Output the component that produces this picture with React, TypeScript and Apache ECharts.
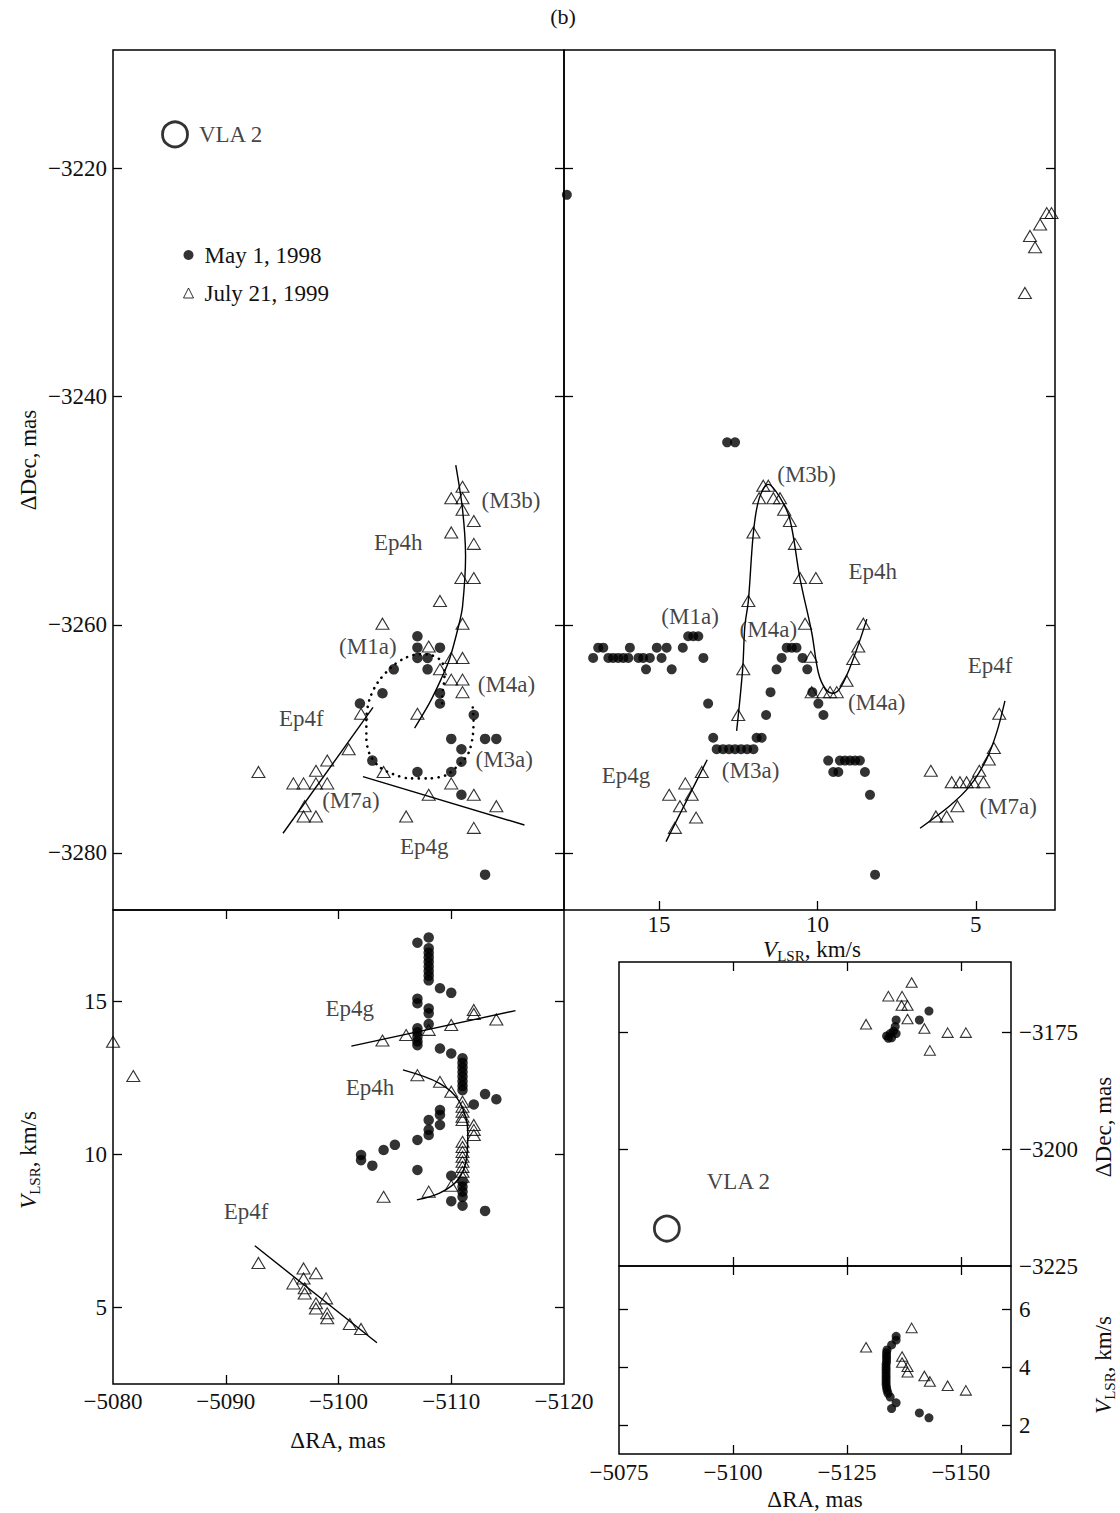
import React, { useEffect, useRef } from "react";
import * as echarts from "echarts";

type P = [number, number];
type Note = [number, number, string];

const FONT = '"Liberation Serif", "Times New Roman", serif';
const MAY = "May 1, 1998";
const JULY = "July 21, 1999";

// ---------- tick values ----------
const DEC_TICKS_TOP = [-3220, -3240, -3260, -3280];
const V_TICKS = [15, 10, 5];
const RA_LABELS_LEFT = [-5080, -5090, -5100, -5110, -5120];
const RA_TICKS_LEFT = [-5090, -5100, -5110];
const RA_LABELS_INSET = [-5075, -5100, -5125, -5150];
const RA_TICKS_INSET = [-5100, -5125, -5150];
const DEC_LABELS_INSET = [-3175, -3200, -3225];
const DEC_TICKS_INSET = [-3175, -3200];
const V_TICKS_INSET = [6, 4, 2];

// ---------- VLA 2 position (RA, Dec) ----------
const VLA2: P = [-5085.5, -3217];

// ---------- Panel A: RA vs Dec ----------
const A_MAY: P[] = [
  [-5107, -3261], [-5107, -3262], [-5109, -3262], [-5107, -3262.9], [-5107.9, -3262.9],
  [-5104.9, -3263.9], [-5107.9, -3263.9], [-5103.9, -3266], [-5101.9, -3266.9], [-5109, -3266],
  [-5109, -3266.9], [-5112, -3267.9], [-5110, -3270], [-5113, -3270], [-5114, -3270],
  [-5110.9, -3270.9], [-5110.9, -3272], [-5103, -3271.9], [-5107, -3272.9], [-5110, -3272.9],
  [-5110.9, -3274.9], [-5113, -3281.9],
];
const A_JULY: P[] = [
  [-5111, -3247.9], [-5110, -3248.9], [-5111, -3248.9], [-5111, -3249.9], [-5112, -3250.9],
  [-5110, -3251.9], [-5112, -3252.9], [-5110.9, -3255.9], [-5112, -3255.9], [-5109, -3257.9],
  [-5111, -3259.9], [-5103.9, -3259.9], [-5108, -3261.9], [-5110, -3262.9], [-5111, -3262.9],
  [-5109, -3263.9], [-5110, -3264.8], [-5111, -3264.8], [-5111, -3265.9], [-5102, -3267.8],
  [-5107, -3267.8], [-5100.9, -3270.9], [-5099, -3271.9], [-5098, -3272.8], [-5092.9, -3272.9],
  [-5104, -3272.9], [-5096, -3273.9], [-5096.9, -3273.9], [-5098, -3273.9], [-5099, -3273.9],
  [-5110, -3273.9], [-5108, -3274.9], [-5112, -3274.9], [-5097, -3275.9], [-5114, -3275.9],
  [-5096.9, -3276.8], [-5098, -3276.8], [-5106, -3276.8], [-5112, -3277.8],
];
const A_EP4H: P[] = [
  [-5106.75, -3269.05], [-5108.1, -3266.8], [-5109.1, -3264.76], [-5109.85, -3263.0],
  [-5110.65, -3260.1], [-5111.0, -3258.4], [-5111.27, -3253.98], [-5111.0, -3249.87], [-5110.4, -3246.0],
];
const A_EP4F: P[] = [[-5095.08, -3278.27], [-5103.06, -3267.24]];
const A_EP4G: P[] = [[-5102.17, -3273.3], [-5116.49, -3277.55]];
const A_LOOP: P[] = [
  [-5111.91, -3267.24], [-5111.98, -3268.26], [-5111.91, -3269.72], [-5111.62, -3271.04],
  [-5111.18, -3271.77], [-5110.44, -3272.49], [-5109.56, -3273.17], [-5108.08, -3273.46],
  [-5106.31, -3273.46], [-5104.83, -3273.08], [-5103.65, -3272.47], [-5102.76, -3271.33],
  [-5102.47, -3269.84], [-5102.47, -3268.26], [-5102.76, -3266.51], [-5103.5, -3265.02],
  [-5104.83, -3263.59], [-5106.01, -3262.86], [-5107.19, -3262.57], [-5108.23, -3262.66],
  [-5109.11, -3263.16], [-5109.41, -3264.17], [-5109.34, -3265.2], [-5109.2, -3266.25], [-5109.2, -3267.39],
];
const A_NOTES: Note[] = [
  [-5115.3, -3249.1, "(M3b)"], [-5105.3, -3252.8, "Ep4h"], [-5102.6, -3261.9, "(M1a)"],
  [-5114.9, -3265.2, "(M4a)"], [-5096.7, -3268.2, "Ep4f"], [-5114.7, -3271.8, "(M3a)"],
  [-5101.1, -3275.4, "(M7a)"], [-5107.6, -3279.4, "Ep4g"],
];

// ---------- Panel B: V_LSR vs Dec ----------
const B_MAY: P[] = [
  [17.91, -3222.3],
  [12.85, -3244], [12.6, -3244],
  [14.08, -3261], [13.92, -3261], [13.76, -3261],
  [16.92, -3262], [16.76, -3262], [15.92, -3262], [15.07, -3262], [14.76, -3262], [14.25, -3262],
  [17.08, -3262.9], [16.6, -3262.9], [16.45, -3262.9], [16.29, -3262.9], [16.13, -3262.9],
  [15.97, -3262.9], [15.65, -3262.9], [15.5, -3262.9], [15.29, -3262.9], [14.92, -3262.9], [13.6, -3262.9],
  [15.41, -3263.9], [14.6, -3263.9],
  [10.97, -3262], [10.81, -3262], [10.66, -3262],
  [11.13, -3262.9], [10.47, -3262.9],
  [11.29, -3263.9], [10.32, -3263.9],
  [13.45, -3266.9], [11.48, -3265.9], [11.62, -3267.9], [10.16, -3265.9], [9.97, -3266.9], [9.81, -3267.9],
  [13.29, -3269.9], [11.92, -3269.9], [11.76, -3269.9],
  [13.18, -3270.9], [12.98, -3270.9], [12.79, -3270.9], [12.6, -3270.9], [12.41, -3270.9], [12.22, -3270.9], [12.02, -3270.9],
  [9.66, -3271.9], [9.29, -3271.9], [9.13, -3271.9], [8.97, -3271.9], [8.81, -3271.9], [8.66, -3271.9],
  [9.5, -3272.9], [9.34, -3272.9], [8.5, -3272.9],
  [8.34, -3274.9], [8.18, -3281.9],
];
const B_JULY: P[] = [
  [11.71, -3247.8], [11.55, -3247.8], [11.84, -3248.9], [11.39, -3248.9], [11.18, -3248.9],
  [11.05, -3249.9], [10.87, -3250.9], [10.71, -3252.9], [12.02, -3251.9], [10.55, -3255.9],
  [10.05, -3255.9], [12.18, -3257.9], [10.39, -3259.9], [12.34, -3263.9], [10.21, -3262.8],
  [12.5, -3267.9], [10.18, -3265.9], [9.81, -3265.9], [9.6, -3265.9], [9.39, -3265.9],
  [9.08, -3264.9], [8.87, -3263], [8.71, -3261.9], [8.55, -3259.9],
  [13.65, -3272.9], [14.17, -3273.9], [14.68, -3274.9], [13.97, -3274.9], [14.34, -3275.9],
  [13.83, -3276.9], [14.5, -3277.8],
  [4.26, -3267.8], [4.43, -3270.8], [4.59, -3271.8], [4.89, -3272.8], [6.42, -3272.8],
  [5.76, -3273.8], [5.5, -3273.8], [5.29, -3273.8], [5.08, -3273.8], [4.76, -3273.8],
  [5.58, -3275.9], [6.26, -3276.8], [5.92, -3276.8],
  [2.76, -3223.9], [2.61, -3223.9], [2.97, -3224.9], [3.29, -3225.9], [3.13, -3226.9], [3.45, -3230.9],
];
const B_EP4H: P[] = [
  [12.55, -3269.29], [12.36, -3263.88], [12.29, -3260.09], [12.18, -3257.9], [12.02, -3251.91],
  [11.84, -3248.93], [11.55, -3247.68], [11.18, -3248.84], [10.87, -3250.74], [10.55, -3255.94],
  [10.18, -3260.67], [9.97, -3264.2], [9.75, -3265.6], [9.5, -3266.0], [9.25, -3265.4],
  [8.87, -3263.0], [8.44, -3259.5],
];
const B_EP4G: P[] = [[14.78, -3279.01], [13.48, -3271.83]];
const B_EP4F: P[] = [
  [6.76, -3277.83], [5.82, -3275.86], [5.18, -3274.1], [4.66, -3271.77], [4.34, -3269.43], [4.08, -3266.66],
];
const B_NOTES: Note[] = [
  [10.34, -3246.8, "(M3b)"], [8.25, -3255.3, "Ep4h"], [14.02, -3259.3, "(M1a)"],
  [11.55, -3260.4, "(M4a)"], [8.13, -3266.8, "(M4a)"], [12.11, -3272.8, "(M3a)"],
  [16.04, -3273.2, "Ep4g"], [4.55, -3263.6, "Ep4f"], [3.98, -3275.9, "(M7a)"],
];

// ---------- Panel C: RA vs V_LSR ----------
const C_MAY: P[] = [
  [-5107, 16.93], [-5108, 17.1], [-5108, 16.75], [-5108, 16.6], [-5108, 16.45], [-5108, 16.3],
  [-5108, 16.15], [-5108, 16.0], [-5108, 15.85], [-5108, 15.7], [-5109, 15.44], [-5110, 15.29],
  [-5107, 15.1], [-5107, 14.95], [-5108, 14.78], [-5108, 14.62], [-5108, 14.27], [-5107, 14.13],
  [-5107, 14.0], [-5107, 13.85], [-5107, 13.7], [-5107, 13.58], [-5109, 13.47], [-5110, 13.31],
  [-5111, 13.15], [-5111, 13.0], [-5111, 12.85], [-5111, 12.7], [-5111, 12.55], [-5111, 12.4],
  [-5111, 12.25], [-5111, 12.11], [-5113, 11.98], [-5114, 11.81], [-5112, 11.64], [-5109, 11.46],
  [-5109, 11.3], [-5108, 11.13], [-5109, 10.97], [-5108, 10.81], [-5108, 10.64], [-5107, 10.48],
  [-5105, 10.32], [-5104, 10.15], [-5102, 9.99], [-5102, 9.82], [-5103, 9.64], [-5107, 9.5],
  [-5110, 9.31], [-5111, 9.11], [-5111, 8.95], [-5111, 8.79], [-5111, 8.62], [-5110, 8.48],
  [-5111, 8.33], [-5113, 8.16],
];
const C_JULY: P[] = [
  [-5080, 13.69], [-5081.8, 12.57], [-5103.9, 13.73], [-5106, 13.91], [-5108, 14.08], [-5110, 14.24],
  [-5112, 14.73], [-5112, 14.6], [-5114, 14.42], [-5107, 12.6], [-5109, 12.38], [-5110, 12.06],
  [-5111, 11.73], [-5111, 11.57], [-5111, 11.4], [-5111, 11.24], [-5111, 11.13], [-5112, 10.97],
  [-5112, 10.81], [-5112, 10.64], [-5111, 10.42], [-5111, 10.25], [-5111, 10.09], [-5111, 9.93],
  [-5111, 9.77], [-5111, 9.6], [-5111, 9.44], [-5111, 9.28], [-5110, 8.98], [-5108, 8.79], [-5104, 8.62],
  [-5092.9, 6.46], [-5096.9, 6.28], [-5098, 6.12], [-5096.9, 5.95], [-5096, 5.79], [-5097, 5.63],
  [-5097, 5.46], [-5098.9, 5.3], [-5098, 5.14], [-5098, 4.97], [-5099, 4.81], [-5099, 4.65],
  [-5101, 4.46], [-5102, 4.3],
];
const C_EP4G: P[] = [[-5101.14, 13.55], [-5115.7, 14.71]];
const C_EP4H: P[] = [
  [-5105.71, 12.77], [-5108.96, 12.33], [-5110.73, 11.73], [-5111.47, 10.7], [-5111.33, 9.82],
  [-5110.58, 9.17], [-5108.96, 8.74], [-5106.95, 8.52],
];
const C_EP4F: P[] = [[-5092.58, 7.02], [-5103.41, 3.85]];
const C_NOTES: Note[] = [
  [-5101.0, 14.79, "Ep4g"], [-5102.8, 12.19, "Ep4h"], [-5091.8, 8.13, "Ep4f"],
];

// ---------- Panel D: RA vs Dec (wide field) ----------
const D_MAY: P[] = [
  [-5143.0, -3170.5], [-5140.9, -3172.4], [-5135.8, -3172.4], [-5135.6, -3173.8], [-5135.2, -3174.8],
  [-5135.8, -3175.3], [-5134.5, -3175.3], [-5133.7, -3175.8], [-5134.8, -3176.2], [-5134.1, -3176.3],
];
const D_JULY: P[] = [
  [-5139.2, -3164.4], [-5134.1, -3167.3], [-5137.1, -3167.3], [-5137.0, -3169.3], [-5138.3, -3169.3],
  [-5138.3, -3172.2], [-5129.2, -3173.3], [-5142.0, -3174.2], [-5147.1, -3175.1], [-5151.1, -3175.1],
  [-5143.2, -3178.9],
];

// ---------- Panel E: RA vs V_LSR (wide field) ----------
const E_MAY: P[] = [
  [-5135.8, 5.07], [-5135.8, 4.94], [-5134.8, 4.77], [-5133.8, 4.6], [-5133.7, 4.5], [-5133.7, 4.4],
  [-5133.7, 4.3], [-5133.7, 4.2], [-5133.6, 4.1], [-5133.6, 4.0], [-5133.6, 3.9], [-5133.6, 3.8],
  [-5133.6, 3.7], [-5133.6, 3.6], [-5133.6, 3.5], [-5133.6, 3.4], [-5133.7, 3.3], [-5133.8, 3.2],
  [-5134.0, 3.1], [-5134.5, 2.97], [-5135.8, 2.77], [-5134.8, 2.57], [-5140.9, 2.42], [-5143.0, 2.25],
];
const E_JULY: P[] = [
  [-5139.2, 5.36], [-5129.2, 4.69], [-5137.1, 4.37], [-5137.1, 4.16], [-5138.3, 4.02],
  [-5138.3, 3.83], [-5142.0, 3.7], [-5143.2, 3.51], [-5147.1, 3.36], [-5151.1, 3.2],
];

// ---------- helpers ----------
const fmt = (v: number) => (v < 0 ? "\u2212" + Math.abs(v) : String(v));
const TXT = "#111";
const INK = "#000";

function axis(
  grid: number,
  position: string,
  min: number,
  max: number,
  inverse: boolean,
  ticks: number[],
  labels?: number[],
  margin = 7
) {
  return {
    type: "value",
    gridIndex: grid,
    position,
    min,
    max,
    inverse,
    axisLine: { show: false },
    splitLine: { show: false },
    axisTick: ticks.length
      ? { show: true, inside: true, length: 9, customValues: ticks, lineStyle: { color: INK, width: 1.3 } }
      : { show: false },
    axisLabel: labels
      ? {
          show: true,
          customValues: labels,
          formatter: fmt,
          margin,
          fontFamily: FONT,
          fontSize: 23,
          color: TXT,
          showMinLabel: true,
          showMaxLabel: true,
        }
      : { show: false },
  };
}

const dots = (data: P[], xi: number, yi: number, size = 10) => ({
  type: "scatter",
  name: MAY,
  data,
  xAxisIndex: xi,
  yAxisIndex: yi,
  symbol: "circle",
  symbolSize: size,
  itemStyle: { color: INK },
  silent: true,
  z: 4,
});
const tris = (data: P[], xi: number, yi: number, size: number[] = [13, 11]) => ({
  type: "scatter",
  name: JULY,
  data,
  xAxisIndex: xi,
  yAxisIndex: yi,
  symbol: "triangle",
  symbolSize: size,
  itemStyle: { color: "rgba(0,0,0,0)", borderColor: INK, borderWidth: 1.1 },
  silent: true,
  z: 4,
});
const fit = (data: P[], xi: number, yi: number, smooth: number | boolean, dotted = false) => ({
  type: "line",
  data,
  xAxisIndex: xi,
  yAxisIndex: yi,
  showSymbol: false,
  symbol: "none",
  smooth,
  lineStyle: dotted
    ? { color: INK, width: 2.6, type: [0.1, 6.5], cap: "round" }
    : { color: INK, width: 1.4, type: "solid" },
  silent: true,
  z: 3,
});
const notes = (data: Note[], xi: number, yi: number) => ({
  type: "scatter",
  data: data.map((n) => ({ value: [n[0], n[1]], name: n[2] })),
  xAxisIndex: xi,
  yAxisIndex: yi,
  symbolSize: 1,
  itemStyle: { color: "rgba(0,0,0,0)" },
  label: { show: true, position: "inside", formatter: "{b}", fontFamily: FONT, fontSize: 23, color: TXT },
  silent: true,
  z: 6,
});
const vla = (xi: number, yi: number, label: any) => ({
  type: "scatter",
  data: [VLA2],
  xAxisIndex: xi,
  yAxisIndex: yi,
  symbol: "circle",
  symbolSize: 25,
  itemStyle: { color: "rgba(0,0,0,0)", borderColor: INK, borderWidth: 2.8 },
  label: { show: true, formatter: "VLA 2", fontFamily: FONT, fontSize: 23, color: TXT, ...label },
  silent: true,
  z: 5,
});

const vlsrRich = {
  i: { fontFamily: FONT, fontSize: 23, fontStyle: "italic", color: TXT, lineHeight: 28, verticalAlign: "middle" },
  s: { fontFamily: FONT, fontSize: 15, color: TXT, lineHeight: 12, verticalAlign: "bottom" },
  n: { fontFamily: FONT, fontSize: 23, color: TXT, lineHeight: 28, verticalAlign: "middle" },
};
const title = (x: number, y: number, text: string, rotate = false, size = 23) => ({
  type: "text",
  x,
  y,
  rotation: rotate ? Math.PI / 2 : 0,
  style: {
    text,
    font: `${size}px ${FONT}`,
    fill: TXT,
    align: "center",
    verticalAlign: "middle",
  },
});
const vtitle = (x: number, y: number, rotate = false) => ({
  type: "text",
  x,
  y,
  rotation: rotate ? Math.PI / 2 : 0,
  style: {
    text: "{i|V}{s|LSR}{n|, km/s}",
    rich: vlsrRich,
    fill: TXT,
    align: "center",
    verticalAlign: "middle",
  },
});

export default function App() {
  const ref = useRef<HTMLDivElement>(null);
  useEffect(() => {
    if (!ref.current) return;
    const chart = echarts.init(ref.current, undefined, { renderer: "svg" });
    const gridStyle = { show: true, borderColor: INK, borderWidth: 1.5, backgroundColor: "rgba(0,0,0,0)" };
    const option: any = {
      animation: false,
      backgroundColor: "#fff",
      grid: [
        { ...gridStyle, left: 113, top: 50, width: 451, height: 860 }, // A
        { ...gridStyle, left: 564, top: 50, width: 491, height: 860 }, // B
        { ...gridStyle, left: 113, top: 910, width: 451, height: 474 }, // C
        { ...gridStyle, left: 619, top: 962, width: 392, height: 304 }, // D
        { ...gridStyle, left: 619, top: 1266, width: 392, height: 188 }, // E
      ],
      xAxis: [
        axis(0, "bottom", -5120, -5080, true, []), // 0 A
        axis(1, "bottom", 2.5, 18, true, V_TICKS, V_TICKS, 3), // 1 B
        axis(2, "bottom", -5120, -5080, true, RA_TICKS_LEFT, RA_LABELS_LEFT, 6), // 2 C bottom
        axis(2, "top", -5120, -5080, true, RA_TICKS_LEFT), // 3 C top
        axis(3, "top", -5161, -5075, true, RA_TICKS_INSET), // 4 D top
        axis(3, "bottom", -5161, -5075, true, RA_TICKS_INSET), // 5 D bottom
        axis(4, "top", -5161, -5075, true, RA_TICKS_INSET), // 6 E top
        axis(4, "bottom", -5161, -5075, true, RA_TICKS_INSET, RA_LABELS_INSET, 7), // 7 E bottom
      ],
      yAxis: [
        axis(0, "left", -3285, -3209.6, false, DEC_TICKS_TOP, DEC_TICKS_TOP, 6), // 0 A left
        axis(0, "right", -3285, -3209.6, false, DEC_TICKS_TOP), // 1 A right
        axis(1, "left", -3285, -3209.6, false, DEC_TICKS_TOP), // 2 B left
        axis(1, "right", -3285, -3209.6, false, DEC_TICKS_TOP), // 3 B right
        axis(2, "left", 2.5, 18, false, V_TICKS, V_TICKS, 6), // 4 C left
        axis(2, "right", 2.5, 18, false, V_TICKS), // 5 C right
        axis(3, "left", -3225, -3160, false, DEC_TICKS_INSET), // 6 D left
        axis(3, "right", -3225, -3160, false, DEC_TICKS_INSET, DEC_LABELS_INSET, 8), // 7 D right
        axis(4, "left", 1, 7.5, false, V_TICKS_INSET), // 8 E left
        axis(4, "right", 1, 7.5, false, V_TICKS_INSET, V_TICKS_INSET, 8), // 9 E right
      ],
      legend: {
        show: true,
        orient: "vertical",
        left: 178,
        top: 238,
        itemWidth: 10,
        itemHeight: 10,
        itemGap: 14,
        symbolKeepAspect: true,
        selectedMode: false,
        textStyle: { fontFamily: FONT, fontSize: 23, color: TXT, lineHeight: 24, padding: [0, 0, 0, 6] },
        data: [
          { name: MAY, icon: "circle" },
          { name: JULY, icon: "triangle", itemStyle: { color: "rgba(0,0,0,0)", borderColor: INK, borderWidth: 1 } },
        ],
      },
      series: [
        // Panel A
        fit(A_EP4H, 0, 0, 0.3),
        fit(A_EP4F, 0, 0, false),
        fit(A_EP4G, 0, 0, false),
        fit(A_LOOP, 0, 0, 0.3, true),
        dots(A_MAY, 0, 0, 10.5),
        tris(A_JULY, 0, 0),
        notes(A_NOTES, 0, 0),
        vla(0, 0, { position: "right", distance: 10 }),
        // Panel B
        fit(B_EP4H, 1, 2, 0.35),
        fit(B_EP4G, 1, 2, false),
        fit(B_EP4F, 1, 2, 0.3),
        dots(B_MAY, 1, 2, 10),
        tris(B_JULY, 1, 2),
        notes(B_NOTES, 1, 2),
        // Panel C
        fit(C_EP4G, 2, 4, false),
        fit(C_EP4H, 2, 4, 0.35),
        fit(C_EP4F, 2, 4, false),
        dots(C_MAY, 2, 4, 10.5),
        tris(C_JULY, 2, 4),
        notes(C_NOTES, 2, 4),
        // Panel D
        dots(D_MAY, 5, 6, 9),
        tris(D_JULY, 5, 6, [11, 9.5]),
        vla(5, 6, { position: "right", distance: 26, offset: [0, -47] }),
        // Panel E
        dots(E_MAY, 7, 8, 9),
        tris(E_JULY, 7, 8, [11, 9.5]),
      ],
      graphic: [
        title(563, 16, "(b)", false, 22),
        title(28, 460, "\u0394Dec, mas", true),
        vtitle(28, 1160, true),
        vtitle(812, 949, false),
        title(338, 1440, "\u0394RA, mas"),
        title(1103, 1127, "\u0394Dec, mas", true),
        vtitle(1103, 1365, true),
        title(815, 1499, "\u0394RA, mas"),
      ],
    };
    chart.setOption(option);
    return () => chart.dispose();
  }, []);
  return (
    <div
      ref={ref}
      style={{ position: "absolute", left: 0, top: 0, width: 1120, height: 1513, background: "#fff" }}
    />
  );
}
